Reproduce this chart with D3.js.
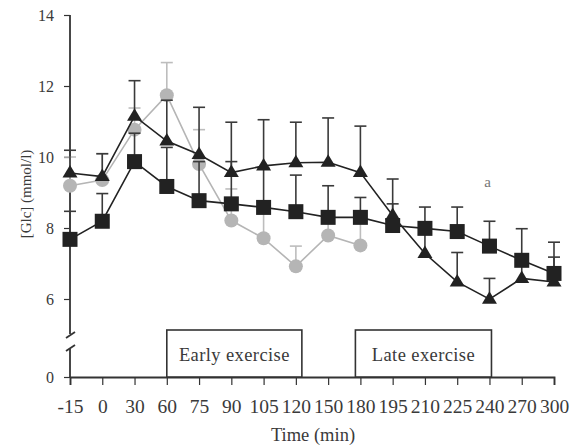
<!DOCTYPE html>
<html><head><meta charset="utf-8">
<script src="https://cdn.jsdelivr.net/npm/d3@7"></script>
<style>
body{margin:0;background:#fff;}
text{font-family:"Liberation Serif","Times New Roman",serif;}
</style></head>
<body><svg id="chart" width="571" height="447"></svg>
<script>
// ---- data ----
const times = ["-15","0","30","60","75","90","105","120","150","180","195","210","225","240","270","300"];
const yTicks = [0, 6, 8, 10, 12, 14];
// triangles (black)
const triMean = [9.55, 9.45, 11.15, 10.45, 10.07, 9.56, 9.75, 9.84, 9.85, 9.56, 8.35, 7.28, 6.48, 5.99, 6.58, 6.48];
const triSE   = [0.64, 0.64, 1.00, 1.15, 1.33, 1.42, 1.30, 1.14, 1.25, 1.31, 1.03, 0.60, 0.83, 0.59, 0.42, 0.70];
// squares (black)
const sqMean  = [7.68, 8.19, 9.87, 9.17, 8.77, 8.68, 8.58, 8.46, 8.30, 8.30, 8.07, 7.99, 7.90, 7.49, 7.09, 6.72];
const sqSE    = [0.79, 0.78, 0.80, 1.10, 1.10, 1.19, 1.10, 1.03, 0.89, 0.56, 0.61, 0.60, 0.69, 0.70, 0.89, 0.88];
// circles (grey), measured up to 180 min only
const ciTimes = ["-15","0","30","60","75","90","105","120","150","180"];
const ciMean  = [9.19, 9.35, 10.77, 11.74, 9.80, 8.21, 7.71, 6.92, 7.79, 7.51];
const ciSE    = [0.81, 0.75, 0.61, 0.92, 0.97, 0.89, 0.79, 0.57, 0.51, 0.70];
const periods = [
  {label:"Early exercise", from:"60", to:"120"},
  {label:"Late exercise", from:"180", to:"240"}
];
const annotations = [{label:"a", time:"240", value:9.15}];

// ---- layout ----
const svg = d3.select("#chart");
const x = d3.scalePoint().domain(times).range([70, 554]);
const y = d3.scaleLinear().domain([0, 6, 14]).range([377, 299, 15]);
const dark = "#222", grey = "#b5b5b5", axisCol = "#333", textCol = "#3a3a3a";

// y axis (broken)
const yAx = svg.append("g").attr("transform","translate(70,0)")
  .call(d3.axisLeft(y).tickValues(yTicks).tickSize(6).tickPadding(10).tickFormat(d3.format("d")));
yAx.select(".domain").remove();
yAx.selectAll("line").attr("stroke", axisCol).attr("stroke-width",1.2);
yAx.selectAll("text").attr("font-size","16px").attr("fill",textCol);
const gapTop = 334, gapBot = 349;
svg.append("line").attr("x1",70).attr("x2",70).attr("y1",y(14)).attr("y2",gapTop)
  .attr("stroke",axisCol).attr("stroke-width",1.8);
svg.append("line").attr("x1",70).attr("x2",70).attr("y1",gapBot).attr("y2",y(0))
  .attr("stroke",axisCol).attr("stroke-width",1.8);
[gapTop+1, gapBot-1].forEach(c=>{
  svg.append("line").attr("x1",66).attr("x2",75).attr("y1",c+3).attr("y2",c-3)
    .attr("stroke",axisCol).attr("stroke-width",1.8);
});

// x axis
const xAx = svg.append("g").attr("transform",`translate(0,${y(0)})`)
  .call(d3.axisBottom(x).tickSize(8).tickPadding(14));
xAx.select(".domain").attr("stroke",axisCol).attr("stroke-width",1.8);
xAx.selectAll("line").attr("stroke",axisCol).attr("stroke-width",1.2);
xAx.selectAll("text").attr("font-size","19.5px").attr("fill",textCol);

// axis titles
svg.append("text").attr("x",313).attr("y",441).attr("text-anchor","middle")
  .attr("font-size","18.5px").attr("fill",textCol).text("Time (min)");
svg.append("text").attr("transform","translate(31,194) rotate(-90)").attr("text-anchor","middle")
  .attr("font-size","15px").attr("fill",textCol).text("[Glc] (mmol/l)");

// exercise boxes
const boxOff = {"Early exercise":[0,6], "Late exercise":[-5,2]};
periods.forEach(p=>{
  const x0 = x(p.from)+boxOff[p.label][0], x1 = x(p.to)+boxOff[p.label][1];
  svg.append("rect").attr("x",x0).attr("y",330).attr("width",x1-x0).attr("height",y(0)-330)
    .attr("fill","#fff").attr("stroke",axisCol).attr("stroke-width",1.6);
  svg.append("text").attr("x",(x0+x1)/2).attr("y",361).attr("text-anchor","middle")
    .attr("font-size","18.5px").attr("letter-spacing","0.4px").attr("fill",textCol).text(p.label);
});

// helpers
function errBars(tms, means, ses, col){
  const g = svg.append("g").attr("stroke",col).attr("stroke-width",1.6);
  tms.forEach((t,i)=>{
    const cx = x(t), y0 = y(means[i]), y1 = y(means[i]+ses[i]);
    g.append("line").attr("x1",cx).attr("x2",cx).attr("y1",y0).attr("y2",y1);
    g.append("line").attr("x1",cx-6).attr("x2",cx+6).attr("y1",y1).attr("y2",y1);
  });
}
function seriesLine(tms, means, col){
  svg.append("path").datum(means.map((v,i)=>[x(tms[i]), y(v)]))
    .attr("d", d3.line()).attr("fill","none").attr("stroke",col).attr("stroke-width",1.6);
}

// grey circles (back)
errBars(ciTimes, ciMean, ciSE, "#bdbdbd");
seriesLine(ciTimes, ciMean, grey);
svg.append("g").selectAll("circle").data(ciMean).join("circle")
  .attr("cx",(d,i)=>x(ciTimes[i])).attr("cy",d=>y(d)).attr("r",7).attr("fill",grey);

// black series
errBars(times, triMean, triSE, "#3a3a3a");
errBars(times, sqMean, sqSE, "#3a3a3a");
seriesLine(times, triMean, dark);
seriesLine(times, sqMean, dark);
svg.append("g").selectAll("path").data(triMean).join("path")
  .attr("transform",(d,i)=>`translate(${x(times[i])},${y(d)})`)
  .attr("d","M0,-8L7.5,4.5L-7.5,4.5Z").attr("fill",dark);
svg.append("g").selectAll("rect").data(sqMean).join("rect")
  .attr("x",(d,i)=>x(times[i])-7.5).attr("y",d=>y(d)-7.5).attr("width",15).attr("height",15).attr("fill",dark);

// annotation
annotations.forEach(a=>{
  svg.append("text").attr("x",x(a.time)-2).attr("y",y(a.value)).attr("text-anchor","middle")
    .attr("font-size","15px").attr("fill","#777").text(a.label);
});
</script></body></html>
